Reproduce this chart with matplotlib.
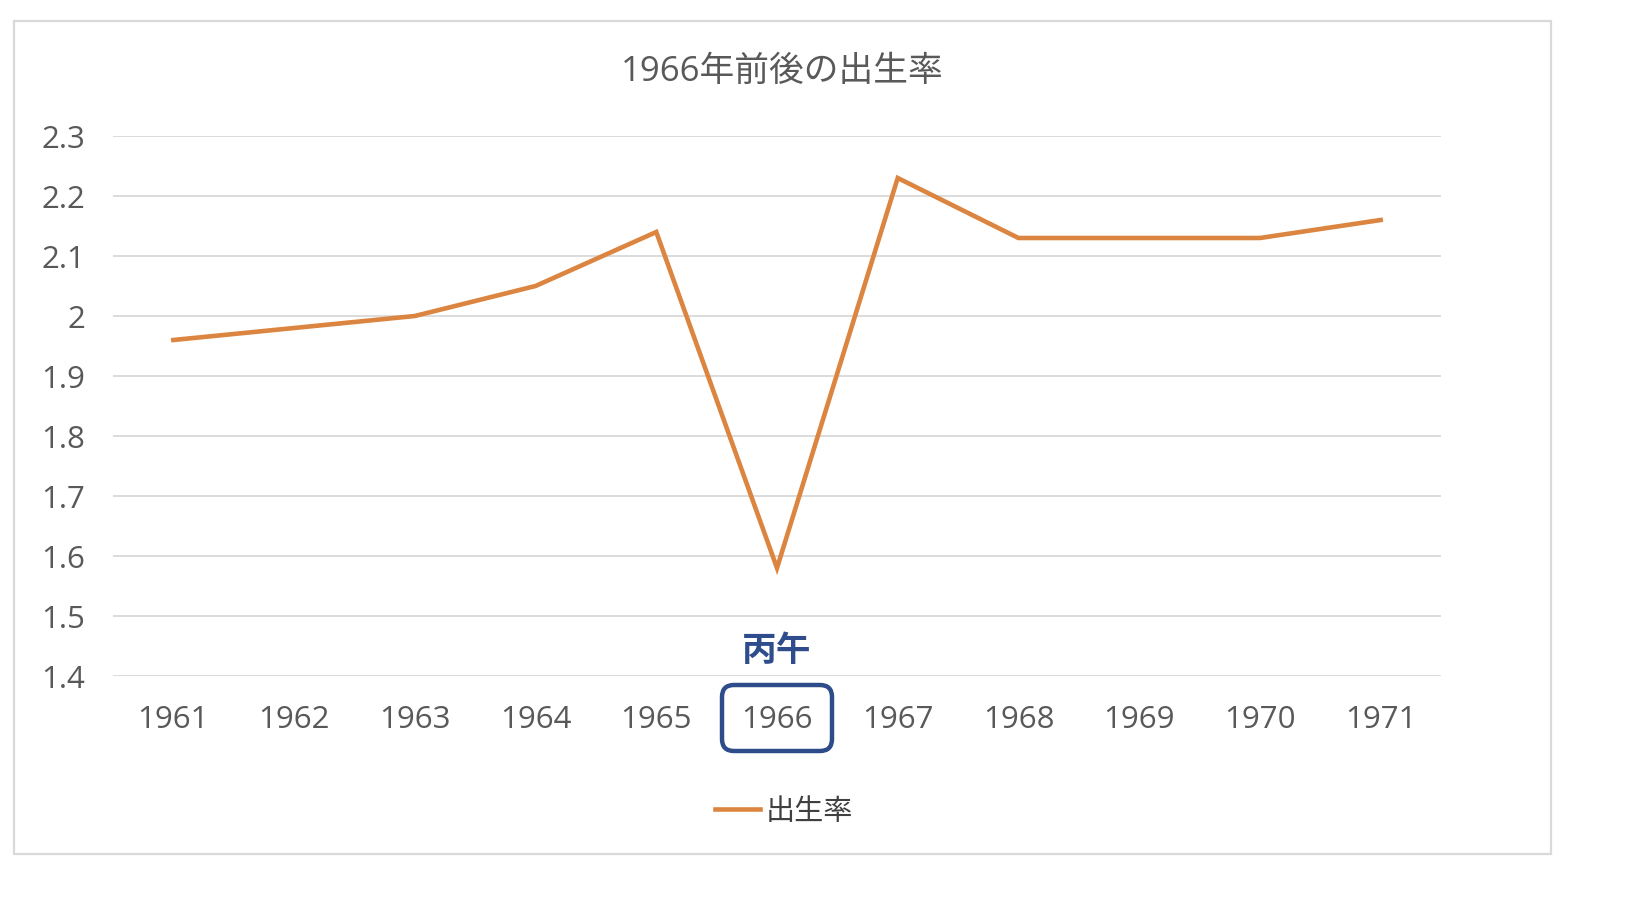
import matplotlib
matplotlib.use("Agg")
import matplotlib.pyplot as plt
from matplotlib.patches import FancyBboxPatch, Rectangle
from matplotlib.transforms import IdentityTransform
from matplotlib.lines import Line2D

years = ["1961", "1962", "1963", "1964", "1965", "1966", "1967", "1968", "1969", "1970", "1971"]
birth_rate = [1.96, 1.98, 2.00, 2.05, 2.14, 1.58, 2.23, 2.13, 2.13, 2.13, 2.16]
y_ticks = [1.4, 1.5, 1.6, 1.7, 1.8, 1.9, 2.0, 2.1, 2.2, 2.3]
y_tick_labels = ["1.4", "1.5", "1.6", "1.7", "1.8", "1.9", "2", "2.1", "2.2", "2.3"]
title = "1966年前後の出生率"
series_name = "出生率"
highlight_label = "丙午"
highlight_index = 5

FONTS = ["Open Sans", "Noto Sans CJK JP", "DejaVu Sans"]
plt.rcParams["font.family"] = FONTS

W, H = 1642, 920
fig = plt.figure(figsize=(W / 100, H / 100), dpi=100)
fig.patch.set_facecolor("white")

# outer chart border
fig.patches.append(Rectangle((14 / W, 1 - 855 / H), (1551 - 14) / W, (855 - 22) / H,
                             transform=fig.transFigure, fill=False,
                             edgecolor="#D9D9D9", linewidth=1.6, zorder=0))

ax = fig.add_axes([113 / W, 1 - 677 / H, (1441 - 113) / W, (677 - 137) / H])
line_color = "#DB8540"
x = list(range(len(years)))
ax.plot(x, birth_rate, color=line_color, linewidth=3.3, solid_joinstyle="miter", zorder=3)

ax.set_xlim(-0.5, len(years) - 0.5)
ax.set_ylim(1.4, 2.3)
ax.set_yticks(y_ticks)
ax.set_yticklabels(y_tick_labels)
ax.set_xticks(x)
ax.set_xticklabels(years)
ax.tick_params(axis="both", length=0, labelsize=22.5, labelcolor="#595959")
ax.tick_params(axis="y", pad=20)
ax.tick_params(axis="x", pad=20)
ax.grid(axis="y", color="#D9D9D9", linewidth=1.3)
ax.set_axisbelow(True)
for s in ax.spines.values():
    s.set_visible(False)

fig.text(782 / W, 1 - 72 / H, title, ha="center", va="center",
         fontsize=25, color="#595959", family=FONTS)

# highlight
fig.canvas.draw()
cx, y0 = ax.transData.transform((highlight_index, 1.4))
bw, bh = 110, 66
box = FancyBboxPatch((cx - bw / 2, y0 - 9 - bh), bw, bh,
                     boxstyle="round,pad=0,rounding_size=12",
                     transform=IdentityTransform(), fill=False,
                     edgecolor="#2E4C8A", linewidth=3.2, zorder=5)
fig.patches.append(box)
fig.text(cx / W, (y0 + 25) / H, highlight_label, ha="center", va="center",
         fontsize=25, fontweight="bold", color="#2F4D8C", family=FONTS)

handle = Line2D([], [], color=line_color, linewidth=3.3)
fig.legend([handle], [series_name], loc="center",
           bbox_to_anchor=(784 / W, 1 - 813 / H), frameon=False,
           handlelength=1.55, handletextpad=0.2,
           labelcolor="#404040", prop={"family": FONTS, "size": 21})

fig.savefig("out.png", dpi=100)
